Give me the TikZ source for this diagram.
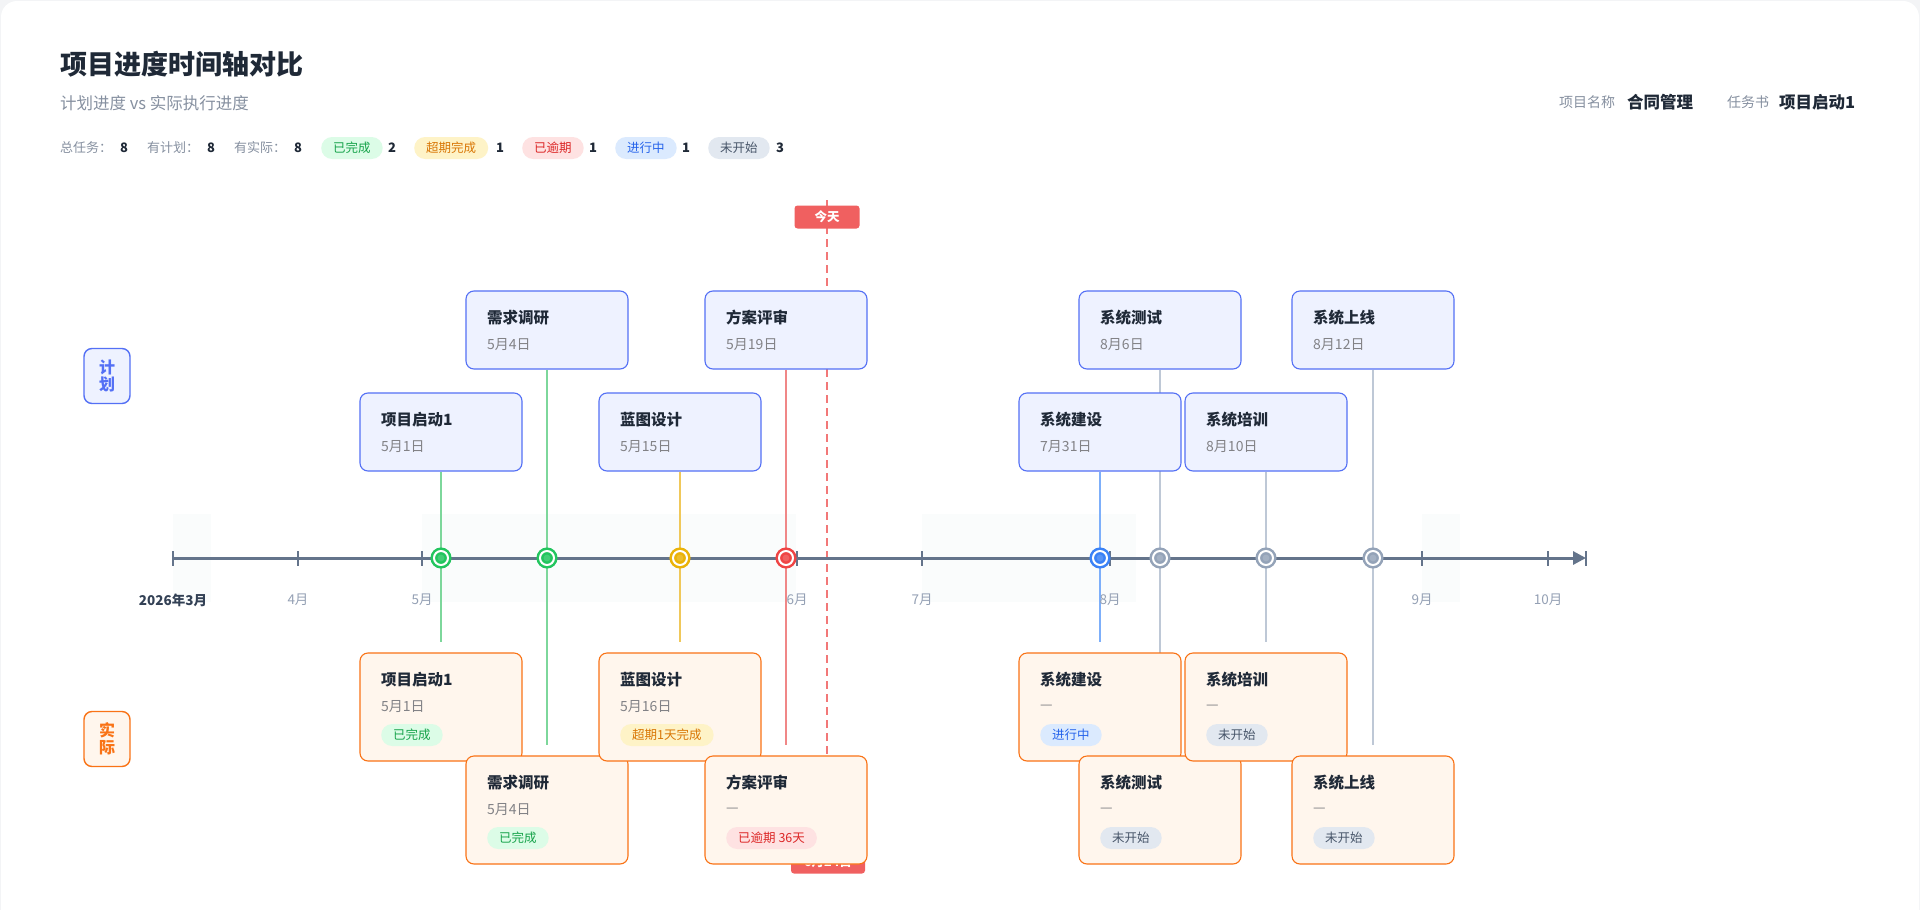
\documentclass[tikz,border=0pt]{standalone}
\usepackage{fontspec}
\setmainfont{Noto Sans CJK SC}
\usepackage{xcolor}
\definecolor{ColInk}{RGB}{31,41,55}
\definecolor{ColMute}{RGB}{134,144,160}
\definecolor{ColDate}{RGB}{130,130,134}
\definecolor{ColPlan}{RGB}{84,112,245}
\definecolor{ColPlanBg}{RGB}{238,242,255}
\definecolor{ColAct}{RGB}{249,115,22}
\definecolor{ColActBg}{RGB}{255,246,237}
\definecolor{ColAxis}{RGB}{100,116,139}
\definecolor{ColMonth}{RGB}{148,160,180}
\definecolor{ColMonthDark}{RGB}{51,65,85}
\definecolor{ColToday}{RGB}{240,96,96}
\definecolor{ColShade}{RGB}{250,252,252}
\definecolor{ColPage}{RGB}{243,244,246}
\definecolor{ColDone}{RGB}{22,163,74}
\definecolor{ColDoneBg}{RGB}{220,252,231}
\definecolor{ColDoneDot}{RGB}{34,197,94}
\definecolor{ColDoneLine}{RGB}{125,215,155}
\definecolor{ColLate}{RGB}{217,119,6}
\definecolor{ColLateBg}{RGB}{254,243,199}
\definecolor{ColLateDot}{RGB}{234,179,8}
\definecolor{ColLateLine}{RGB}{240,200,90}
\definecolor{ColOver}{RGB}{220,38,38}
\definecolor{ColOverBg}{RGB}{254,226,226}
\definecolor{ColOverDot}{RGB}{239,68,68}
\definecolor{ColOverLine}{RGB}{240,135,135}
\definecolor{ColRun}{RGB}{37,99,235}
\definecolor{ColRunBg}{RGB}{219,234,254}
\definecolor{ColRunDot}{RGB}{59,130,246}
\definecolor{ColRunLine}{RGB}{125,175,250}
\definecolor{ColIdle}{RGB}{71,85,105}
\definecolor{ColIdleBg}{RGB}{226,232,240}
\definecolor{ColIdleDot}{RGB}{148,163,184}
\definecolor{ColIdleLine}{RGB}{190,200,214}
\usepackage{tikz}
\usetikzlibrary{arrows.meta}
\pgfdeclarelayer{bg}
\pgfsetlayers{bg,main}
\tikzstyle{Txt}=[inner sep=0pt,anchor=west]
\tikzstyle{PageTitle}=[Txt,font=\fontsize{27}{32}\selectfont\bfseries,text=ColInk]
\tikzstyle{PageSub}=[Txt,font=\fontsize{16.5}{19}\selectfont,text=ColMute]
\tikzstyle{MetaKey}=[Txt,font=\fontsize{14}{16}\selectfont,text=ColMute]
\tikzstyle{MetaVal}=[Txt,font=\fontsize{16.5}{19}\selectfont\bfseries,text=ColInk]
\tikzstyle{StatKey}=[Txt,font=\fontsize{13}{15}\selectfont,text=ColMute]
\tikzstyle{StatVal}=[Txt,font=\fontsize{13}{15}\selectfont\bfseries,text=ColInk]
\tikzstyle{Pill}=[Txt,rounded corners=11pt,inner xsep=12pt,inner ysep=0pt,
minimum height=22pt,font=\fontsize{12.5}{14}\selectfont]
\tikzstyle{PillDone}=[Pill,fill=ColDoneBg,text=ColDone]
\tikzstyle{PillLate}=[Pill,fill=ColLateBg,text=ColLate]
\tikzstyle{PillOver}=[Pill,fill=ColOverBg,text=ColOver]
\tikzstyle{PillRun}=[Pill,fill=ColRunBg,text=ColRun]
\tikzstyle{PillIdle}=[Pill,fill=ColIdleBg,text=ColIdle]
\tikzstyle{SideTag}=[rectangle,rounded corners=8pt,line width=1.4pt,minimum width=46pt,
minimum height=55pt,inner sep=0pt,align=center,font=\fontsize{16}{17}\selectfont\bfseries]
\tikzstyle{PlanCard}=[rectangle,draw=ColPlan,fill=ColPlanBg,line width=1.1pt,
rounded corners=8pt,minimum width=162pt,minimum height=78pt,inner sep=0pt]
\tikzstyle{ActCard}=[rectangle,draw=ColAct,fill=ColActBg,line width=1.1pt,
rounded corners=8pt,minimum width=162pt,minimum height=108pt,inner sep=0pt]
\tikzstyle{CardName}=[Txt,font=\fontsize{15.5}{18}\selectfont\bfseries,text=ColInk]
\tikzstyle{CardDate}=[Txt,font=\fontsize{14}{16}\selectfont,text=ColDate]
\tikzstyle{Dot}=[circle,inner sep=0pt,minimum size=14pt,line width=2.5pt,
double=white,double distance=2pt]
\tikzstyle{DotDone}=[Dot,draw=ColDoneDot,fill=ColDoneDot!85!white]
\tikzstyle{DotLate}=[Dot,draw=ColLateDot,fill=ColLateDot!85!white]
\tikzstyle{DotOver}=[Dot,draw=ColOverDot,fill=ColOverDot!85!white]
\tikzstyle{DotRun}=[Dot,draw=ColRunDot,fill=ColRunDot!85!white]
\tikzstyle{DotIdle}=[Dot,draw=ColIdleDot,fill=ColIdleDot!85!white]
\tikzstyle{Stem}=[line width=2.5pt,shorten >=10pt]
\tikzstyle{StemDone}=[Stem,draw=ColDoneLine]
\tikzstyle{StemLate}=[Stem,draw=ColLateLine]
\tikzstyle{StemOver}=[Stem,draw=ColOverLine]
\tikzstyle{StemRun}=[Stem,draw=ColRunLine]
\tikzstyle{StemIdle}=[Stem,draw=ColIdleLine]
\tikzstyle{Axis}=[draw=ColAxis,line width=3pt,-{Triangle[length=13pt,width=13pt]}]
\tikzstyle{TickMark}=[rectangle,fill=ColAxis,inner sep=0pt,minimum width=2pt,minimum height=15pt]
\tikzstyle{Month}=[inner sep=0pt,font=\fontsize{13.5}{15}\selectfont,text=ColMonth]
\tikzstyle{MonthFirst}=[Month,font=\fontsize{13.5}{15}\selectfont\bfseries,text=ColMonthDark]
\tikzstyle{TodayTag}=[rectangle,fill=ColToday,text=white,rounded corners=3pt,inner sep=0pt,
minimum height=23pt,font=\fontsize{12.5}{14}\selectfont\bfseries]
\tikzstyle{TodayLine}=[draw=ColToday!85!white,line width=2.5pt,dash pattern=on 8pt off 5pt]

\begin{document}
\begin{tikzpicture}[x=1pt,y=-1pt]
        \useasboundingbox(0,0)rectangle(1920,910);
        \node[PageTitle](H1)at(60.00,64.00){项目进度时间轴对比};
        \node[PageSub](H2)at(60.00,103.00){计划进度 vs 实际执行进度};
        \node[MetaKey](H3)at(1559.00,102.00){项目名称};
        \node[MetaVal](H4)at(1627.00,102.00){合同管理};
        \node[MetaKey](H5)at(1727.00,102.00){任务书};
        \node[MetaVal](H6)at(1779.00,102.00){项目启动1};
        \node[StatKey](S1)at(60.00,148.00){总任务：};
        \node[StatVal](V1)at(120.00,148.00){8};
        \node[StatKey](S2)at(147.00,148.00){有计划：};
        \node[StatVal](V2)at(207.00,148.00){8};
        \node[StatKey](S3)at(234.00,148.00){有实际：};
        \node[StatVal](V3)at(294.00,148.00){8};
        \node[PillDone](S4)at(321.00,148.00){已完成};
        \node[StatVal](V4)at(388.00,148.00){2};
        \node[PillLate](S5)at(414.00,148.00){超期完成};
        \node[StatVal](V5)at(496.00,148.00){1};
        \node[PillOver](S6)at(522.00,148.00){已逾期};
        \node[StatVal](V6)at(589.00,148.00){1};
        \node[PillRun](S7)at(615.00,148.00){进行中};
        \node[StatVal](V7)at(682.00,148.00){1};
        \node[PillIdle](S8)at(708.00,148.00){未开始};
        \node[StatVal](V8)at(776.00,148.00){3};
        \node[SideTag,draw=ColPlan,fill=ColPlanBg,text=ColPlan](SP)at(107.00,376.00){计\\划};
        \node[SideTag,draw=ColAct,fill=ColActBg,text=ColAct](SA)at(107.00,739.00){实\\际};
        \coordinate(AxS)at(173.00,558.00);
        \coordinate(AxE)at(1586.00,558.00);
        \draw[Axis](AxS)--(AxE);
        \node[TickMark](T1)at(173.00,558.00){};
        \node[TickMark](T2)at(298.00,558.00){};
        \node[TickMark](T3)at(422.00,558.00){};
        \node[TickMark](T4)at(797.00,558.00){};
        \node[TickMark](T5)at(922.00,558.00){};
        \node[TickMark](T6)at(1110.00,558.00){};
        \node[TickMark](T7)at(1422.00,558.00){};
        \node[TickMark](T8)at(1548.00,558.00){};
        \node[TickMark](T9)at(1586.00,558.00){};
        \node[MonthFirst](M1)at(173.00,600.00){2026年3月};
        \node[Month](M2)at(298.00,600.00){4月};
        \node[Month](M3)at(422.00,600.00){5月};
        \node[Month](M4)at(797.00,600.00){6月};
        \node[Month](M5)at(922.00,600.00){7月};
        \node[Month](M6)at(1110.00,600.00){8月};
        \node[Month](M7)at(1422.00,600.00){9月};
        \node[Month](M8)at(1548.00,600.00){10月};
        \node[DotDone](D1)at(441.00,558.00){};
        \node[DotDone](D2)at(547.00,558.00){};
        \node[DotLate](D3)at(680.00,558.00){};
        \node[DotOver](D4)at(786.00,558.00){};
        \node[DotRun](D5)at(1100.00,558.00){};
        \node[DotIdle](D6)at(1160.00,558.00){};
        \node[DotIdle](D7)at(1266.00,558.00){};
        \node[DotIdle](D8)at(1373.00,558.00){};
        \node[TodayTag,minimum width=65pt](TodayTop)at(827.00,217.00){今天};
        \node[TodayTag,minimum width=74pt](TodayBot)at(828.00,862.00){6月24日};
        \coordinate(TodayA)at(827.00,200.00);
        \coordinate(TodayB)at(827.00,874.00);
        \node[PlanCard](P1)at(441.00,432.00){};
        \node[CardName](P1n)at(381.00,420.00){项目启动1};
        \node[CardDate](P1d)at(381.00,447.00){5月1日};
        \node[PlanCard](P2)at(547.00,330.00){};
        \node[CardName](P2n)at(487.00,318.00){需求调研};
        \node[CardDate](P2d)at(487.00,345.00){5月4日};
        \node[PlanCard](P3)at(680.00,432.00){};
        \node[CardName](P3n)at(620.00,420.00){蓝图设计};
        \node[CardDate](P3d)at(620.00,447.00){5月15日};
        \node[PlanCard](P4)at(786.00,330.00){};
        \node[CardName](P4n)at(726.00,318.00){方案评审};
        \node[CardDate](P4d)at(726.00,345.00){5月19日};
        \node[PlanCard](P5)at(1100.00,432.00){};
        \node[CardName](P5n)at(1040.00,420.00){系统建设};
        \node[CardDate](P5d)at(1040.00,447.00){7月31日};
        \node[PlanCard](P6)at(1160.00,330.00){};
        \node[CardName](P6n)at(1100.00,318.00){系统测试};
        \node[CardDate](P6d)at(1100.00,345.00){8月6日};
        \node[PlanCard](P7)at(1266.00,432.00){};
        \node[CardName](P7n)at(1206.00,420.00){系统培训};
        \node[CardDate](P7d)at(1206.00,447.00){8月10日};
        \node[PlanCard](P8)at(1373.00,330.00){};
        \node[CardName](P8n)at(1313.00,318.00){系统上线};
        \node[CardDate](P8d)at(1313.00,345.00){8月12日};
        \node[ActCard](A1)at(441.00,707.00){};
        \node[CardName](A1n)at(381.00,680.00){项目启动1};
        \node[CardDate](A1d)at(381.00,707.00){5月1日};
        \node[PillDone](A1s)at(381.00,735.00){已完成};
        \node[ActCard](A2)at(547.00,810.00){};
        \node[CardName](A2n)at(487.00,783.00){需求调研};
        \node[CardDate](A2d)at(487.00,810.00){5月4日};
        \node[PillDone](A2s)at(487.00,838.00){已完成};
        \node[ActCard](A3)at(680.00,707.00){};
        \node[CardName](A3n)at(620.00,680.00){蓝图设计};
        \node[CardDate](A3d)at(620.00,707.00){5月16日};
        \node[PillLate](A3s)at(620.00,735.00){超期1天完成};
        \node[ActCard](A4)at(786.00,810.00){};
        \node[CardName](A4n)at(726.00,783.00){方案评审};
        \node[CardDate](A4d)at(726.00,810.00){—};
        \node[PillOver](A4s)at(726.00,838.00){已逾期 36天};
        \node[ActCard](A5)at(1100.00,707.00){};
        \node[CardName](A5n)at(1040.00,680.00){系统建设};
        \node[CardDate](A5d)at(1040.00,707.00){—};
        \node[PillRun](A5s)at(1040.00,735.00){进行中};
        \node[ActCard](A6)at(1160.00,810.00){};
        \node[CardName](A6n)at(1100.00,783.00){系统测试};
        \node[CardDate](A6d)at(1100.00,810.00){—};
        \node[PillIdle](A6s)at(1100.00,838.00){未开始};
        \node[ActCard](A7)at(1266.00,707.00){};
        \node[CardName](A7n)at(1206.00,680.00){系统培训};
        \node[CardDate](A7d)at(1206.00,707.00){—};
        \node[PillIdle](A7s)at(1206.00,735.00){未开始};
        \node[ActCard](A8)at(1373.00,810.00){};
        \node[CardName](A8n)at(1313.00,783.00){系统上线};
        \node[CardDate](A8d)at(1313.00,810.00){—};
        \node[PillIdle](A8s)at(1313.00,838.00){未开始};
        \begin{pgfonlayer}{bg}
        \fill[ColPage](0,0)rectangle(1920,910);
        \fill[white,rounded corners=16pt](1,1)rectangle(1919,940);
        \fill[ColShade](173,514)rectangle(211,602);
        \fill[ColShade](422,514)rectangle(796,602);
        \fill[ColShade](922,514)rectangle(1136,602);
        \fill[ColShade](1422,514)rectangle(1460,602);
        \draw[TodayLine](TodayA)--(TodayB);
        \draw[StemDone](P1.south)--(A1.north);
        \draw[StemDone](P2.south)--(A2.north);
        \draw[StemLate](P3.south)--(A3.north);
        \draw[StemOver](P4.south)--(A4.north);
        \draw[StemRun](P5.south)--(A5.north);
        \draw[StemIdle](P6.south)--(A6.north);
        \draw[StemIdle](P7.south)--(A7.north);
        \draw[StemIdle](P8.south)--(A8.north);
        \end{pgfonlayer}
    \end{tikzpicture}
\end{document}
